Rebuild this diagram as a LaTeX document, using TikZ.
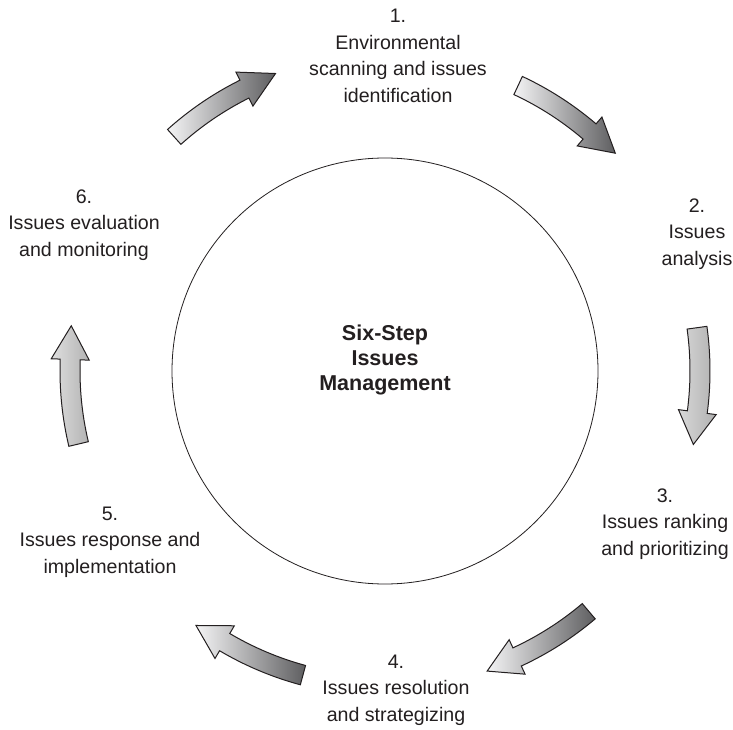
\documentclass[tikz,border=0pt]{standalone}
\usepackage{fontspec}
\setmainfont{Liberation Sans}
\definecolor{ink}{HTML}{231F20}
\definecolor{lightsh}{HTML}{F4F4F5}
\definecolor{darksh}{HTML}{5E5E60}
\tikzset{
  blockarrow/.style={draw=ink, line width=1pt, line join=miter,
    left color=lightsh, right color=darksh, shift={(385pt,358pt)}},
  steplabel/.style={align=center, text=ink, inner sep=0pt,
    font=\fontsize{19.6}{26.5}\selectfont},
  centerlabel/.style={align=center, text=ink, inner sep=0pt,
    font=\fontsize{21.5}{25}\selectfont\bfseries},
}
\newcommand\cyclearrow[4][]{%
  \draw[blockarrow,#1] (#2:325pt) arc[start angle=#2, end angle=#3, radius=325pt]
    -- (#3:334pt) -- (#4:317pt) -- (#3:296pt) -- (#3:305pt)
    arc[start angle=#3, end angle=#2, radius=305pt] -- cycle;}
\begin{document}
\begin{tikzpicture}[x=1pt,y=1pt]
\fill[white] (0,0) rectangle (733,729);
\useasboundingbox (0,0) rectangle (733,729);
\node[circle, draw=ink, line width=0.8pt, minimum size=426pt, inner sep=0pt] (hub) at (385,358) {};
\node[centerlabel] (title) at (385,369) {Six-Step\\Issues\\Management};
\node[steplabel] (s1) at (398,673) {1.\\Environmental\\scanning and issues\\identification};
\node[steplabel] (s2) at (697,495) {2.\\Issues\\analysis};
\node[steplabel] (s3) at (665,205) {3.\\Issues ranking\\and prioritizing};
\node[steplabel] (s4) at (396,39) {4.\\Issues resolution\\and strategizing};
\node[steplabel] (s5) at (110,187) {5.\\Issues response and\\implementation};
\node[steplabel] (s6) at (84,504) {6.\\Issues evaluation\\and monitoring};
\cyclearrow{132}{116.5}{110.2}
\cyclearrow{65}{49.5}{43.4}
\cyclearrow[left color=gray!30, right color=gray!62]{7.9}{-7.5}{-13.4}
\cyclearrow{-49.7}{-65.2}{-71.2}
\cyclearrow{-105.1}{-120.6}{-126.6}
\cyclearrow[left color=gray!25, right color=gray!60]{193.4}{177.9}{171.8}
\end{tikzpicture}
\end{document}
